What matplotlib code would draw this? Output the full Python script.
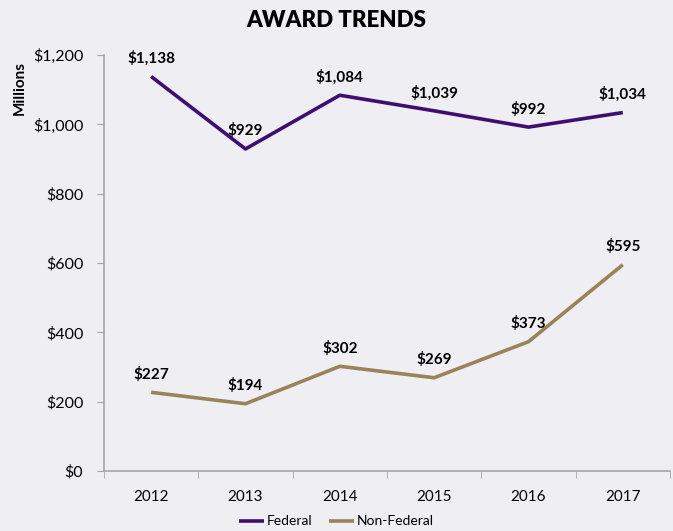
import matplotlib.pyplot as plt
from matplotlib.ticker import FuncFormatter

years = ["2012", "2013", "2014", "2015", "2016", "2017"]
federal = [1138, 929, 1084, 1039, 992, 1034]
non_federal = [227, 194, 302, 269, 373, 595]

plt.rcParams['font.family'] = ['Lato', 'DejaVu Sans']

bg = '#EEEEF3'
fig = plt.figure(figsize=(6.73, 5.31), dpi=100, facecolor=bg)
ax = fig.add_axes([0.1545, 0.113, 0.841, 0.7834], facecolor=bg)

x = list(range(len(years)))
ax.plot(x, federal, color='#3E0F70', lw=2.6, label='Federal', solid_capstyle='butt')
ax.plot(x, non_federal, color='#9A8358', lw=2.6, label='Non-Federal', solid_capstyle='butt')

for xi, v in zip(x, federal):
    ax.annotate(f"${v:,}", (xi, v), xytext=(0, 13), textcoords='offset points',
                ha='center', va='center', fontsize=11, fontweight='bold', color='black')
for xi, v in zip(x, non_federal):
    ax.annotate(f"${v:,}", (xi, v), xytext=(0, 13), textcoords='offset points',
                ha='center', va='center', fontsize=11, fontweight='bold', color='black')

ax.set_xlim(-0.5, len(years) - 0.5)
ax.set_ylim(0, 1200)
ax.set_yticks(range(0, 1201, 200))
ax.yaxis.set_major_formatter(FuncFormatter(lambda v, p: f"${int(v):,}"))
ax.set_xticks(x)
ax.set_xticklabels(years)
ax.set_xticks([i - 0.5 for i in range(len(years) + 1)], minor=True)
ax.tick_params(axis='x', which='major', length=0, pad=14, labelsize=11)
ax.tick_params(axis='x', which='minor', length=5, color='#A6A6A6')
ax.tick_params(axis='y', length=5, color='#A6A6A6', labelsize=11.5, pad=10)

for s in ['top', 'right']:
    ax.spines[s].set_visible(False)
for s in ['left', 'bottom']:
    ax.spines[s].set_color('#A6A6A6')
    ax.spines[s].set_linewidth(1.2)

fig.text(0.5, 0.962, "AWARD TRENDS", ha='center', va='center', fontsize=16, fontweight='heavy')
fig.text(0.03, 0.835, "Millions", rotation=90, ha='center', va='center', fontsize=11, fontweight='bold')

fig.legend(loc='center', bbox_to_anchor=(0.5, 0.018), ncol=2, frameon=False, fontsize=10,
           handlelength=1.8, handletextpad=0.2, columnspacing=1.2)

fig.savefig('out.png', dpi=100, facecolor=bg)
